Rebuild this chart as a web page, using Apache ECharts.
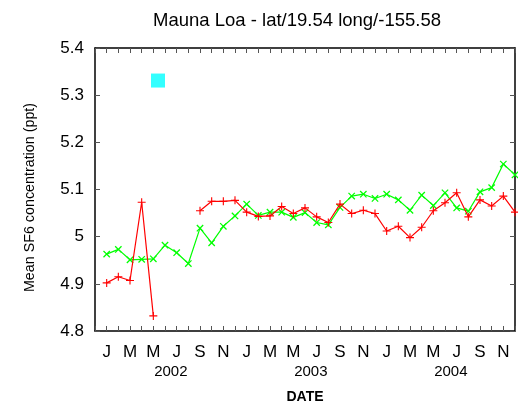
<!DOCTYPE html>
<html>
<head>
<meta charset="utf-8">
<script src="https://cdn.jsdelivr.net/npm/echarts@6/dist/echarts.min.js"></script>
<style>
html,body{margin:0;padding:0;background:#fff;}
#chart{width:518px;height:409px;}
</style>
</head>
<body>
<div id="chart"></div>
<script>
// Month index: 0 = Jan 2002 ... 35 = Dec 2004
var monthLetters = ['J','F','M','A','M','J','J','A','S','O','N','D'];
var years = ['2002','2003','2004'];
var yearCenters = [5.5, 17.5, 29.5];
var yTicks = [4.8, 4.9, 5.0, 5.1, 5.2, 5.3, 5.4];

var redValues = [4.902, 4.915, 4.907, 5.073, 4.832, null, null, null,
  5.055, 5.075, 5.075, 5.077, 5.052, 5.043, 5.044, 5.064, 5.049, 5.061, 5.042, 5.030,
  5.069, 5.049, 5.056, 5.049, 5.012, 5.022, 4.998, 5.020, 5.055, 5.072, 5.093, 5.042,
  5.078, 5.065, 5.086, 5.052];
var greenValues = [4.963, 4.973, 4.951, 4.952, 4.953, 4.982, 4.966, 4.943, 5.018, 4.987,
  5.022, 5.044, 5.069, 5.045, 5.052, 5.052, 5.041, 5.051, 5.030, 5.025, 5.062, 5.086,
  5.090, 5.081, 5.090, 5.078, 5.056, 5.088, 5.066, 5.093, 5.061, 5.054, 5.095, 5.104,
  5.154, 5.131];
var cyanPoint = [[4.4, 5.331]];

function pairs(vals){ return vals.map(function(v,i){ return [i, v]; }); }

var FONT = 'Liberation Sans';
var plusPath = 'path://M-0.7,-5H0.7V-0.7H5V0.7H0.7V5H-0.7V0.7H-5V-0.7H-0.7Z';

var chart = echarts.init(document.getElementById('chart'), null, {renderer:'canvas'});
chart.setOption({
  animation: false,
  backgroundColor: '#ffffff',
  title: {
    text: 'Mauna Loa - lat/19.54 long/-155.58',
    left: 292, top: 6, textAlign: 'center',
    textStyle: {fontFamily: FONT, fontSize: 18.5, fontWeight: 'normal', color: '#000'}
  },
  grid: {left: 95, right: 1, top: 48, bottom: 78},
  xAxis: [{
    type: 'value', min: -1, max: 35, interval: 1, position: 'bottom',
    name: 'DATE', nameLocation: 'middle', nameGap: 59,
    nameTextStyle: {fontFamily: FONT, fontSize: 14, fontWeight: 'bold', color: '#000'},
    axisLine: {show: true, onZero: false, lineStyle: {color: '#000', width: 1.5}},
    axisTick: {show: true, inside: true, length: 5, lineStyle: {color: '#555', width: 1}},
    axisLabel: {
      margin: 13, fontFamily: FONT, fontSize: 17, color: '#000', showMinLabel: true, showMaxLabel: true,
      formatter: function(v){ var m = Math.round(v); return (m >= 0 && m % 2 === 0) ? monthLetters[m % 12] : ''; }
    },
    splitLine: {show: false}
  }, {
    type: 'value', min: -1, max: 35, interval: 1, position: 'top',
    axisLine: {show: true, onZero: false, lineStyle: {color: '#000', width: 1.5}},
    axisTick: {show: true, inside: true, length: 5, lineStyle: {color: '#555', width: 1}},
    axisLabel: {show: false}, splitLine: {show: false}
  }, {
    type: 'value', min: -1, max: 35, position: 'bottom',
    axisLine: {show: false, onZero: false}, axisTick: {show: false}, splitLine: {show: false},
    axisLabel: {
      show: true, customValues: yearCenters, margin: 33,
      fontFamily: FONT, fontSize: 15, color: '#000',
      formatter: function(v){ var i = yearCenters.indexOf(v); return i >= 0 ? years[i] : ''; }
    }
  }],
  yAxis: [{
    type: 'value', min: 4.8, max: 5.4, interval: 0.1, position: 'left',
    name: 'Mean SF6 concentration (ppt)', nameLocation: 'middle', nameGap: 58,
    nameTextStyle: {fontFamily: FONT, fontSize: 14.3, color: '#000', padding: [0, 16, 0, 0]},
    axisLine: {show: true, onZero: false, lineStyle: {color: '#000', width: 1.5}},
    axisTick: {show: true, inside: true, length: 5, lineStyle: {color: '#555', width: 1}},
    axisLabel: {margin: 11, fontFamily: FONT, fontSize: 17, color: '#000',
      formatter: function(v){ return String(Math.round(v*10)/10); }},
    splitLine: {show: false}
  }, {
    type: 'value', min: 4.8, max: 5.4, interval: 0.1, position: 'right',
    axisLine: {show: true, onZero: false, lineStyle: {color: '#000', width: 1.5}},
    axisTick: {show: true, inside: true, length: 5, lineStyle: {color: '#555', width: 1}},
    axisLabel: {show: false}, splitLine: {show: false}
  }],
  series: [{
    type: 'line', xAxisIndex: 0, yAxisIndex: 0,
    data: pairs(redValues), connectNulls: false,
    lineStyle: {color: '#ff0000', width: 1.2},
    symbol: plusPath, symbolSize: 8, showSymbol: true,
    itemStyle: {color: '#ff0000'}, z: 3
  }, {
    type: 'line', xAxisIndex: 0, yAxisIndex: 0,
    data: pairs(greenValues),
    lineStyle: {color: '#00ff00', width: 1.2},
    symbol: plusPath, symbolRotate: 45, symbolSize: 9, showSymbol: true,
    itemStyle: {color: '#00ff00'}, z: 2
  }, {
    type: 'scatter', xAxisIndex: 0, yAxisIndex: 0,
    data: cyanPoint, symbol: 'rect', symbolSize: 14,
    itemStyle: {color: '#00ffff'}
  }]
});
</script>
</body>
</html>
